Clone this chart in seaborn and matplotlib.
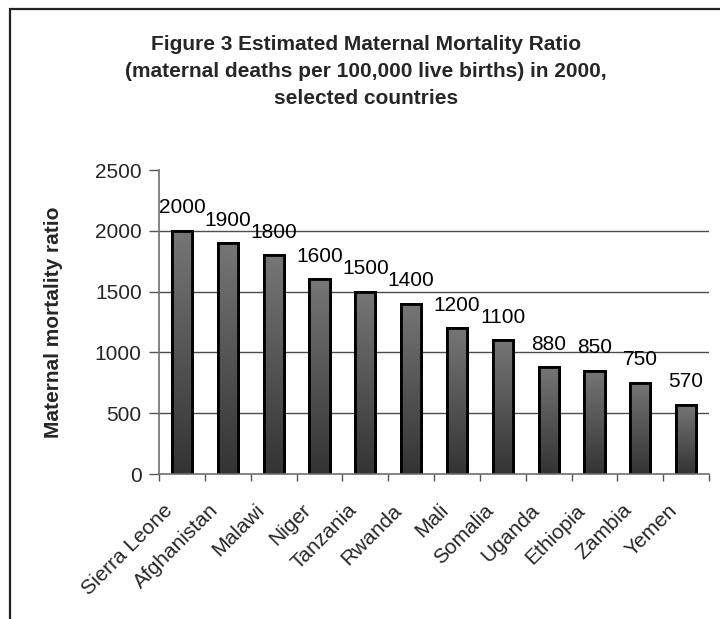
import numpy as np
import pandas as pd
import matplotlib
matplotlib.use("Agg")
import matplotlib.pyplot as plt
import seaborn as sns
from matplotlib.colors import LinearSegmentedColormap
from matplotlib.patches import Rectangle

countries = ["Sierra Leone", "Afghanistan", "Malawi", "Niger", "Tanzania", "Rwanda",
             "Mali", "Somalia", "Uganda", "Ethiopia", "Zambia", "Yemen"]
mmr = [2000, 1900, 1800, 1600, 1500, 1400, 1200, 1100, 880, 850, 750, 570]
y_ticks = [0, 500, 1000, 1500, 2000, 2500]

title_lines = ["Figure 3 Estimated Maternal Mortality Ratio",
               "(maternal deaths per 100,000 live births) in 2000,",
               "selected countries"]
y_label = "Maternal mortality ratio"

sns.set_theme(style="white")
plt.rcParams["font.family"] = ["Liberation Sans", "DejaVu Sans"]

df = pd.DataFrame({"country": countries, "mmr": mmr})

fig = plt.figure(figsize=(7.2, 6.19), dpi=100)
ax = fig.add_axes([159 / 720, 1 - 474 / 619, 550 / 720, 304 / 619])

sns.barplot(data=df, x="country", y="mmr", ax=ax, color="#555555",
            width=0.44, edgecolor="black", linewidth=2.0, saturation=1)

# vertical grey gradient inside each bar, lighter at the top
cmap = LinearSegmentedColormap.from_list("bar", ["#333333", "#767676"])
grad = np.linspace(0, 1, 256).reshape(-1, 1)
for patch in ax.patches:
    x0, y0 = patch.get_x(), patch.get_y()
    w, h = patch.get_width(), patch.get_height()
    im = ax.imshow(grad, cmap=cmap, origin="lower", aspect="auto",
                   extent=[x0, x0 + w, y0, y0 + h], zorder=patch.get_zorder() + 0.1)
    im.set_clip_path(patch)
    ax.add_patch(Rectangle((x0, y0), w, h, fill=False, edgecolor="black",
                           linewidth=2.0, zorder=patch.get_zorder() + 0.2))

ax.set_xlim(-0.5, len(countries) - 0.5)
ax.set_ylim(0, 2500)

# horizontal gridlines below the top of the scale
for t in y_ticks[1:-1]:
    ax.axhline(t, color="#4d4d4d", linewidth=1.0, zorder=0)

# value labels above the bars
for i, v in enumerate(mmr):
    ax.annotate(f"{v}", (i, v), xytext=(0, 12.5), textcoords="offset points",
                ha="center", va="baseline", fontsize=15, color="black")

ax.set_yticks(y_ticks)
ax.set_yticklabels([str(t) for t in y_ticks], fontsize=15)

# slanted category labels: invisible major ticks nudged left so each label
# ends just under its bar; visible minor ticks sit between categories
ax.set_xticks(np.arange(len(countries)) - 0.26)
ax.set_xticklabels(countries, rotation=45, ha="right", va="center",
                   rotation_mode="anchor", fontsize=15)
ax.set_xticks(np.arange(len(countries) + 1) - 0.5, minor=True)
ax.tick_params(axis="x", which="major", length=0, pad=24)
ax.tick_params(axis="x", which="minor", length=5, width=1, color="#555555",
               direction="out", bottom=True)
ax.tick_params(axis="y", length=7, width=1, color="#555555", direction="out",
               left=True, pad=5.5)

for side in ["top", "right"]:
    ax.spines[side].set_visible(False)
for side in ["left", "bottom"]:
    ax.spines[side].set_color("#707070")
    ax.spines[side].set_linewidth(1.2)

ax.set_xlabel("")
ax.set_ylabel("")
fig.text(54 / 720, 1 - 322 / 619, y_label, rotation=90, ha="center", va="center",
         fontsize=15, fontweight="bold")

# chart title, centred over the chart area
for line, base_y in zip(title_lines, [50, 77, 104]):
    fig.text(366 / 720, 1 - base_y / 619, line, ha="center", va="baseline",
             fontsize=15, fontweight="bold")

# outer frame of the figure (left and top edges)
fig.add_artist(Rectangle((10 / 720, -0.05), 1.0, 1 - 9 / 619 + 0.05,
                         transform=fig.transFigure, fill=False,
                         edgecolor="#222222", linewidth=1.6))

fig.savefig("out.png", dpi=100)
